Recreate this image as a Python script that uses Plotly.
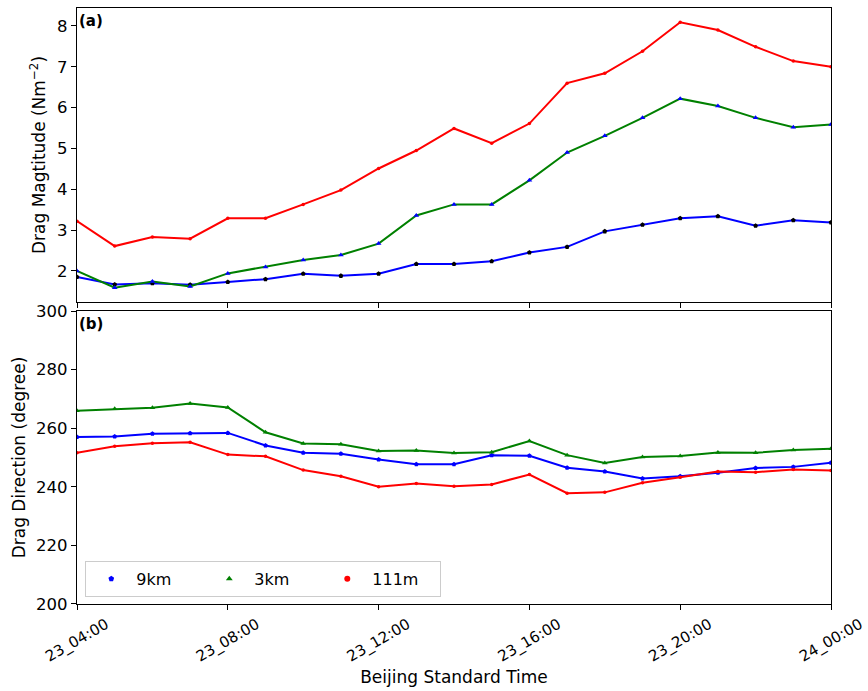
import plotly.graph_objects as go

times = ["2021-07-23 %02d:00" % h for h in range(4, 24)] + ["2021-07-24 00:00"]
tick_vals = ["2021-07-23 04:00", "2021-07-23 08:00", "2021-07-23 12:00",
             "2021-07-23 16:00", "2021-07-23 20:00", "2021-07-24 00:00"]
tick_text = ["23_04:00", "23_08:00", "23_12:00", "23_16:00", "23_20:00", "24_00:00"]

mag_9km = [1.85, 1.67, 1.70, 1.66, 1.73, 1.80, 1.93, 1.88, 1.93, 2.17, 2.17,
           2.24, 2.45, 2.59, 2.97, 3.13, 3.29, 3.34, 3.11, 3.24, 3.19]
mag_3km = [2.00, 1.59, 1.74, 1.62, 1.94, 2.10, 2.27, 2.39, 2.67, 3.36, 3.63,
           3.63, 4.22, 4.90, 5.31, 5.75, 6.22, 6.04, 5.75, 5.52, 5.59]
mag_111m = [3.22, 2.61, 2.83, 2.79, 3.29, 3.29, 3.63, 3.98, 4.51, 4.95, 5.49,
            5.13, 5.61, 6.60, 6.84, 7.38, 8.09, 7.90, 7.49, 7.14, 7.00]

dir_9km = [257.0, 257.2, 258.1, 258.3, 258.4, 254.1, 251.6, 251.3, 249.3, 247.7, 247.7,
           250.8, 250.6, 246.5, 245.2, 242.8, 243.6, 244.8, 246.4, 246.8, 248.2]
dir_3km = [266.0, 266.6, 267.0, 268.4, 267.1, 258.6, 254.8, 254.5, 252.2, 252.4, 251.5,
           251.8, 255.6, 250.8, 248.1, 250.2, 250.5, 251.7, 251.6, 252.6, 253.0]
dir_111m = [251.6, 253.8, 254.9, 255.2, 251.0, 250.4, 245.7, 243.6, 240.0, 241.1, 240.2,
            240.8, 244.2, 237.8, 238.1, 241.4, 243.3, 245.2, 245.0, 245.9, 245.6]

labels = ["9km", "3km", "111m"]
colors = ["blue", "green", "red"]
symbols = ["pentagon", "triangle-up", "circle"]

FONT = "DejaVu Sans"
fig = go.Figure()

# top panel (a)
top_marker_colors = ["black", "blue", "red"]
for ys, c, mc, s, sz in zip([mag_9km, mag_3km, mag_111m], colors, top_marker_colors,
                            symbols, [5, 5, 3.5]):
    fig.add_trace(go.Scatter(x=times, y=ys, mode="lines+markers",
                             line=dict(color=c, width=2),
                             marker=dict(color=mc, symbol=s, size=sz),
                             xaxis="x", yaxis="y", showlegend=False))

# bottom panel (b)
for ys, c, s, sz in zip([dir_9km, dir_3km, dir_111m], colors, symbols, [5, 5, 3.5]):
    fig.add_trace(go.Scatter(x=times, y=ys, mode="lines+markers",
                             line=dict(color=c, width=2),
                             marker=dict(color=c, symbol=s, size=sz),
                             xaxis="x2", yaxis="y2", showlegend=False))

# legend entries (markers only)
for name, c, s in zip(labels, colors, symbols):
    fig.add_trace(go.Scatter(x=[None], y=[None], mode="markers", name=name,
                             marker=dict(color=c, symbol=s, size=6),
                             xaxis="x2", yaxis="y2"))

axis_common = dict(showline=True, linecolor="black", linewidth=1.2, mirror=True,
                   showgrid=False, zeroline=False, ticks="outside", ticklen=5,
                   tickwidth=1.2, tickcolor="black", automargin=False)
yfont = dict(family=FONT, size=16.5, color="black")
xfont = dict(family=FONT, size=15, color="black")

x_range = ["2021-07-23 04:00", "2021-07-24 00:00"]
fig.update_layout(
    width=868, height=691,
    margin=dict(l=77, r=37, t=8, b=87),
    plot_bgcolor="white", paper_bgcolor="white",
    font=dict(family=FONT, size=16, color="black"),
    xaxis=dict(domain=[0, 1], anchor="y", range=x_range, tickvals=tick_vals,
               showticklabels=False, tickfont=xfont, **axis_common),
    yaxis=dict(domain=[0.5067, 1.0], anchor="x", range=[1.24, 8.44],
               tickvals=[2, 3, 4, 5, 6, 7, 8], tickfont=yfont,
               title=dict(text="Drag Magtitude (Nm<sup>−2</sup>)", standoff=7,
                          font=dict(family=FONT, size=17, color="black")),
               **axis_common),
    xaxis2=dict(domain=[0, 1], anchor="y2", range=x_range, tickvals=tick_vals,
                ticktext=tick_text, tickangle=-30, ticklabelshift=29,
                ticklabeloverflow="allow", tickfont=xfont,
                title=dict(text="Beijing Standard Time", standoff=5,
                           font=dict(family=FONT, size=17, color="black")),
                **axis_common),
    yaxis2=dict(domain=[0, 0.4916], anchor="x2", range=[200, 300],
                tickvals=[200, 220, 240, 260, 280, 300], tickfont=yfont,
                title=dict(text="Drag Direction (degree)", standoff=6,
                           font=dict(family=FONT, size=17, color="black")),
                **axis_common),
    legend=dict(orientation="h", x=0.011, y=0.012, xanchor="left", yanchor="bottom",
                bgcolor="white", bordercolor="#cccccc", borderwidth=1,
                font=dict(family=FONT, size=16, color="black"),
                itemwidth=40, entrywidth=63, entrywidthmode="pixels"),
    annotations=[
        dict(text="<b>(a)</b>", xref="paper", yref="paper", x=0.0, y=0.997,
             xanchor="left", yanchor="top", showarrow=False,
             font=dict(family=FONT, size=15, color="black")),
        dict(text="<b>(b)</b>", xref="paper", yref="paper", x=0.0, y=0.489,
             xanchor="left", yanchor="top", showarrow=False,
             font=dict(family=FONT, size=15, color="black")),
    ],
)

fig.write_html("out.html", config={"displayModeBar": False},
               post_script="document.body.style.margin='0';")
